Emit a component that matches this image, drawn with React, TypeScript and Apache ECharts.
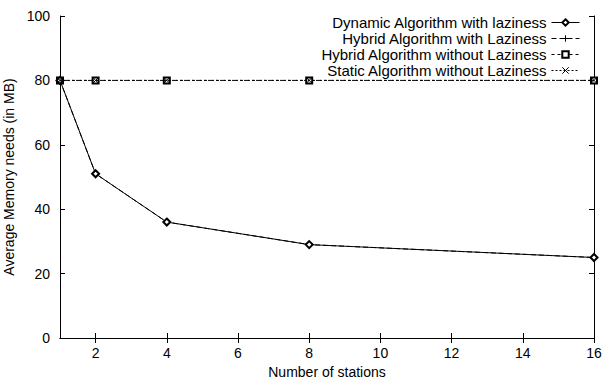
import React, { useEffect, useRef } from "react";
import * as echarts from "echarts";

const stations = [1, 2, 4, 8, 16];
const dynamicLazy = [80, 51, 36, 29, 25];
const hybridLazy = [80, 51, 36, 29, 25];
const hybridNoLazy = [80, 80, 80, 80, 80];
const staticNoLazy = [80, 80, 80, 80, 80];

const xTicks = [2, 4, 6, 8, 10, 12, 14, 16];
const yTicks = [0, 20, 40, 60, 80, 100];

const seriesNames = [
  "Dynamic Algorithm with laziness",
  "Hybrid Algorithm with Laziness",
  "Hybrid Algorithm without Laziness",
  "Static Algorithm without Laziness",
];

const FONT = "Liberation Sans, Arial, Helvetica, sans-serif";
const PLUS = "path://M5,0L5,10M0,5L10,5";
const CROSS = "path://M0,0L10,10M10,0L0,10";

const pairs = (ys: number[]) => stations.map((x, i) => [x, ys[i]]);

export default function App() {
  const ref = useRef<HTMLDivElement>(null);

  useEffect(() => {
    if (!ref.current) return;
    const chart = echarts.init(ref.current, null, { renderer: "svg" });

    const tickStyle = { show: true, inside: true, length: 5, lineStyle: { color: "#000", width: 1 } };
    const lineStyle = { show: true, lineStyle: { color: "#000", width: 1 } };
    const label = { color: "#000", fontFamily: FONT, fontSize: 14 };

    const mkSeries = (
      name: string,
      ys: number[],
      symbol: string,
      size: number,
      dash: any,
      z: number
    ) => ({
      name,
      type: "line",
      data: pairs(ys),
      symbol,
      symbolSize: size,
      showSymbol: true,
      z,
      lineStyle: { color: "#000", width: 1, type: dash },
      itemStyle: { color: "#000", borderColor: "#000", borderWidth: 1 },
    });

    chart.setOption({
      animation: false,
      backgroundColor: "#fff",
      textStyle: { fontFamily: FONT, color: "#000" },
      grid: {
        left: 60,
        right: 11,
        top: 16,
        bottom: 42,
        containLabel: false,
        outerBoundsMode: "none",
      },
      legend: {
        orient: "vertical",
        align: "right",
        right: 25,
        top: 15,
        padding: 0,
        itemWidth: 28,
        itemHeight: 8,
        itemGap: 1,
        itemStyle: { borderWidth: 1 },
        lineStyle: { width: 1 },
        textStyle: { color: "#000", fontFamily: FONT, fontSize: 15, lineHeight: 13.7 },
        data: seriesNames,
      },
      xAxis: [
        {
          type: "value",
          min: 1,
          max: 16,
          position: "bottom",
          name: "Number of stations",
          nameLocation: "middle",
          nameGap: 25,
          nameTextStyle: label,
          axisLine: lineStyle,
          axisTick: { ...tickStyle, customValues: xTicks },
          axisLabel: { ...label, margin: 8, customValues: xTicks },
          splitLine: { show: false },
        },
        {
          type: "value",
          min: 1,
          max: 16,
          position: "top",
          axisLine: lineStyle,
          axisTick: { ...tickStyle, customValues: xTicks },
          axisLabel: { show: false },
          splitLine: { show: false },
        },
      ],
      yAxis: [
        {
          type: "value",
          min: 0,
          max: 100,
          interval: 20,
          position: "left",
          name: "Average Memory needs (in MB)",
          nameLocation: "middle",
          nameGap: 38,
          nameTextStyle: label,
          axisLine: lineStyle,
          axisTick: tickStyle,
          axisLabel: { ...label, margin: 10, formatter: (v: number) => (yTicks.includes(v) ? String(v) : "") },
          splitLine: { show: false },
        },
        {
          type: "value",
          min: 0,
          max: 100,
          interval: 20,
          position: "right",
          axisLine: lineStyle,
          axisTick: tickStyle,
          axisLabel: { show: false },
          splitLine: { show: false },
        },
      ],
      series: [
        mkSeries(seriesNames[0], dynamicLazy, "emptyDiamond", 7, "solid", 4),
        mkSeries(seriesNames[1], hybridLazy, PLUS, 7, [5, 3], 3),
        mkSeries(seriesNames[2], hybridNoLazy, "emptyRect", 6, [3, 3], 2),
        mkSeries(seriesNames[3], staticNoLazy, CROSS, 5, [2, 2], 5),
      ],
    });

    return () => chart.dispose();
  }, []);

  return (
    <div
      ref={ref}
      style={{ position: "fixed", left: 0, top: 0, width: 605, height: 380 }}
    />
  );
}
